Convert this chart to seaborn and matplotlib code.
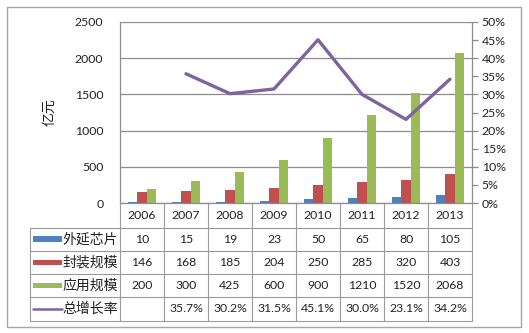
import numpy as np
import pandas as pd
import matplotlib
matplotlib.use("Agg")
import matplotlib.pyplot as plt
import matplotlib.transforms as mtransforms
from matplotlib.lines import Line2D
from matplotlib.patches import Rectangle
import seaborn as sns

# ---------------- data ----------------
years = ["2006", "2007", "2008", "2009", "2010", "2011", "2012", "2013"]
series_names = ["外延芯片", "封装规模", "应用规模"]
epi_chip = [10, 15, 19, 23, 50, 65, 80, 105]
packaging = [146, 168, 185, 204, 250, 285, 320, 403]
application = [200, 300, 425, 600, 900, 1210, 1520, 2068]
growth_name = "总增长率"
growth = [None, 35.7, 30.2, 31.5, 45.1, 30.0, 23.1, 34.2]
left_ticks = [0, 500, 1000, 1500, 2000, 2500]
right_ticks = [0, 5, 10, 15, 20, 25, 30, 35, 40, 45, 50]
y_label = "亿元"

bar_colors = ["#4F81BD", "#C0504D", "#9BBB59"]
line_color = "#7F63A1"
grid_color = "#8C8C8C"
table_color = "#9A9A9A"
text_color = "#222222"
num_fs = 8.8
cjk_fs = 10

# ---------------- style ----------------
sns.set_theme(style="white")
plt.rcParams["font.family"] = ["Lato", "Noto Sans CJK SC"]

W, H = 529, 333
fig = plt.figure(figsize=(W / 100, H / 100), dpi=100)
fig.patch.set_facecolor("white")


def fy(py):
    return 1 - py / H


def fx(px):
    return px / W


ax = fig.add_axes([fx(120), fy(203), (472 - 120) / W, (203 - 22) / H])

df = pd.DataFrame({
    "year": years * 3,
    "series": [n for n in series_names for _ in years],
    "value": epi_chip + packaging + application,
})
sns.barplot(data=df, x="year", y="value", hue="series", palette=bar_colors,
            width=0.62, saturation=1, linewidth=0, ax=ax, legend=False)

ax.set_ylim(0, 2500)
ax.set_yticks(left_ticks)
ax.set_yticklabels([str(t) for t in left_ticks], fontsize=num_fs, color=text_color)
ax.set_xticks([])
ax.set_xlabel("")
ax.set_ylabel(y_label, fontsize=cjk_fs, color=text_color, rotation=90)
ax.yaxis.set_label_coords((55 - 120) / 352, 0.5)
ax.tick_params(axis="y", length=0, pad=12)
ax.yaxis.grid(True, color=grid_color, lw=0.9)
ax.set_axisbelow(True)
for s in ["left", "bottom"]:
    ax.spines[s].set_color(grid_color)
    ax.spines[s].set_linewidth(0.9)
ax.spines["top"].set_visible(False)
ax.spines["right"].set_visible(False)

ax2 = ax.twinx()
xs = np.arange(len(years))
mask = [g is not None for g in growth]
sns.lineplot(x=xs[mask], y=[g for g in growth if g is not None],
             color=line_color, lw=2.4, ax=ax2)
ax2.set_ylim(0, 50)
ax2.set_yticks(right_ticks)
ax2.set_yticklabels([f"{t}%" for t in right_ticks], fontsize=num_fs, color=text_color)
ax2.tick_params(axis="y", length=4, width=0.9, color=grid_color, pad=3, right=True)
ax2.grid(False)
for s in ["left", "top", "bottom"]:
    ax2.spines[s].set_visible(False)
ax2.spines["right"].set_color(grid_color)
ax2.spines["right"].set_linewidth(0.9)
ax.set_xlim(-0.5, len(years) - 0.5)
ax2.set_xlim(-0.5, len(years) - 0.5)

# ---------------- data table ----------------
trans = mtransforms.blended_transform_factory(ax.transData, fig.transFigure)
row_edges = [203, 227.5, 250.8, 274, 297.2, 320.5]
n = len(years)
lw_t = 0.8

for i in range(n + 1):
    fig.add_artist(Line2D([i - 0.5, i - 0.5], [fy(row_edges[0]), fy(row_edges[-1])],
                          transform=trans, color=table_color, lw=lw_t))
fig.add_artist(Line2D([fx(30), fx(30)], [fy(row_edges[1]), fy(row_edges[-1])],
                      transform=fig.transFigure, color=table_color, lw=lw_t))
for r in row_edges[1:]:
    fig.add_artist(Line2D([fx(30), fx(472)], [fy(r), fy(r)],
                          transform=fig.transFigure, color=table_color, lw=lw_t))

yc = fy((row_edges[0] + row_edges[1]) / 2)
for i, yr in enumerate(years):
    fig.text(i, yc, yr, transform=trans, ha="center", va="center",
             fontsize=num_fs, color=text_color)

growth_labels = ["" if g is None else f"{g:.1f}%" for g in growth]
rows = [[str(v) for v in epi_chip], [str(v) for v in packaging],
        [str(v) for v in application], growth_labels]
labels = series_names + [growth_name]
for r, (vals, lab) in enumerate(zip(rows, labels)):
    top, bot = row_edges[r + 1], row_edges[r + 2]
    yc = fy((top + bot) / 2)
    for i, v in enumerate(vals):
        fig.text(i, yc, v, transform=trans, ha="center", va="center",
                 fontsize=num_fs, color=text_color)
    fig.text(fx(62.5), yc, lab, ha="left", va="center", fontsize=cjk_fs,
             color=text_color, family=["Noto Sans CJK SC"])
    if r < 3:
        fig.add_artist(Rectangle((fx(33), yc - 2.8 / H), (62 - 33) / W, 5.6 / H,
                                 transform=fig.transFigure,
                                 facecolor=bar_colors[r], edgecolor="none"))
    else:
        fig.add_artist(Line2D([fx(33), fx(62)], [yc, yc], transform=fig.transFigure,
                              color=line_color, lw=1.8))

fig.add_artist(Rectangle((fx(7), fy(327)), (521 - 7) / W, (327 - 7) / H,
                         transform=fig.transFigure, facecolor="none",
                         edgecolor="#A6A6A6", lw=1.0))

fig.savefig("out.png", dpi=100)
